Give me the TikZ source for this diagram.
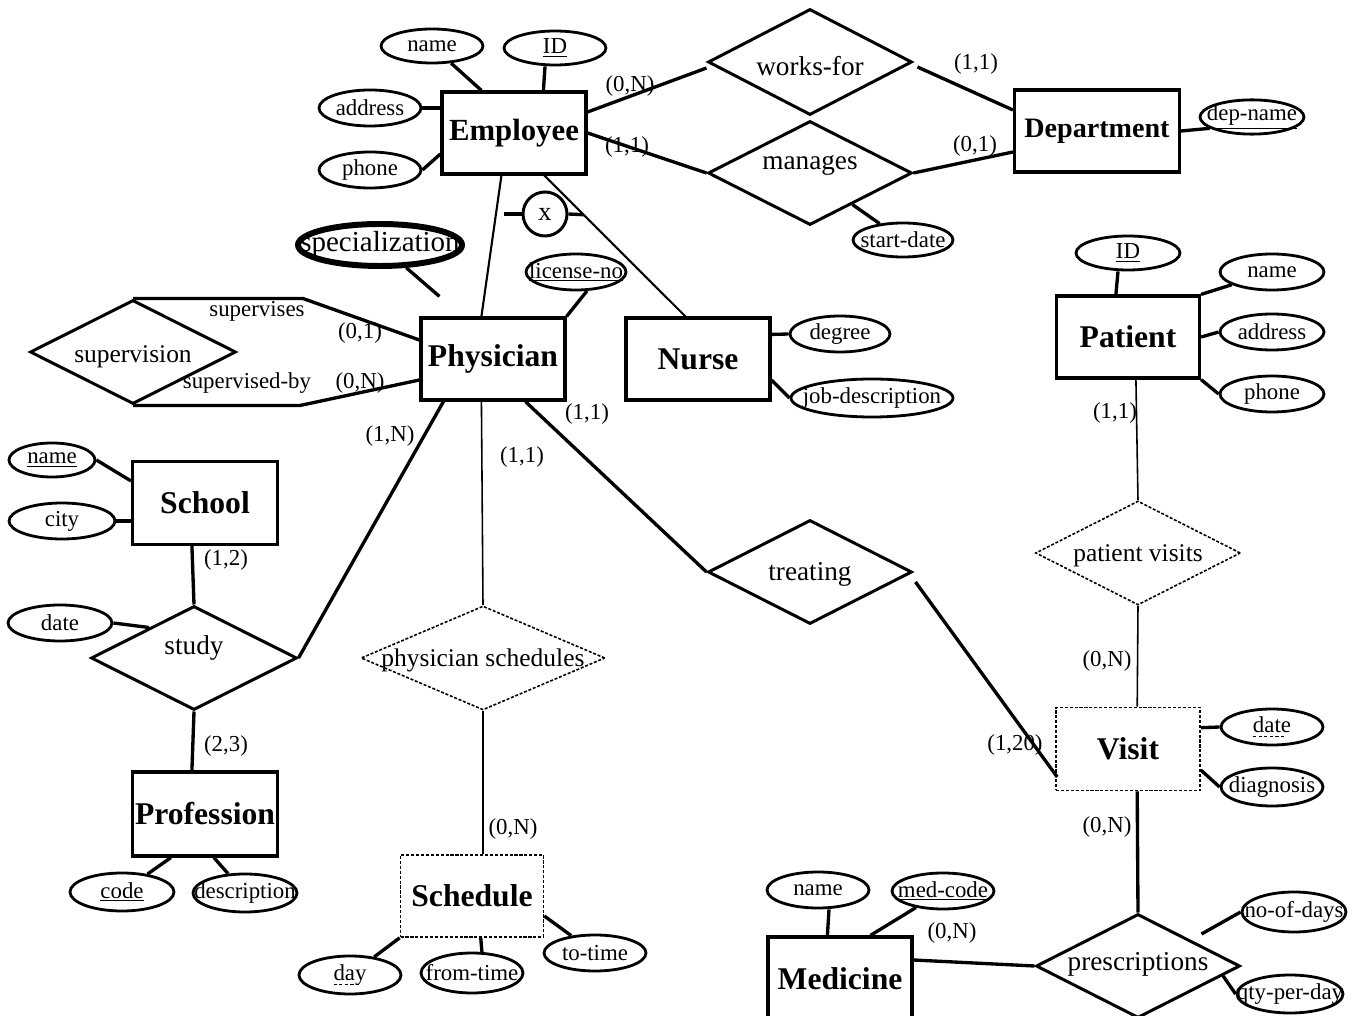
\documentclass[tikz,border=0pt]{standalone}
\usepackage{fontspec}
\setmainfont{Liberation Serif}
\usetikzlibrary{shapes.geometric,calc}
\newcommand{\zb}[1]{\makebox[0pt]{#1}}
\newcommand{\zr}[2]{\makebox[0pt]{\raisebox{#1}[0pt][0pt]{#2}}}
\newcommand{\ul}[1]{\underline{#1}}
\newsavebox{\dulbox}
\newcommand{\dul}[1]{\sbox{\dulbox}{#1}\rlap{\raisebox{-2.6pt}{\hbox to \wd\dulbox{\leaders\hbox{\rule{1.8pt}{0.5pt}\hspace{1.4pt}}\hfill}}}\usebox{\dulbox}}
\begin{document}
\begin{tikzpicture}[x=0.02cm,y=-0.02cm,
  ent/.style 2 args={draw, line width=1.8pt, minimum width=#1*0.02cm, minimum height=#2*0.02cm, inner sep=0pt, font=\fontsize{18}{20}\selectfont\bfseries},
  went/.style 2 args={ent={#1}{#2}, densely dotted, line width=0.9pt},
  attr/.style 2 args={draw, ellipse, line width=1.6pt, minimum width=#1*0.02cm, minimum height=#2*0.02cm, inner sep=0pt, font=\fontsize{13}{15}\selectfont},
  rel/.style 2 args={draw, diamond, line width=1.7pt, minimum width=#1*0.02cm, minimum height=#2*0.02cm, inner sep=0pt, font=\fontsize{15.5}{18}\selectfont},
  wrel/.style 2 args={rel={#1}{#2}, densely dotted, line width=0.9pt, font=\fontsize{14.5}{17}\selectfont},
  card/.style={inner sep=0pt, font=\fontsize{13}{15}\selectfont},
  conn/.style={line width=1.9pt},
  thinconn/.style={line width=0.9pt},
]
\useasboundingbox (0,0) rectangle (1367,1016);

% ---------- entities ----------
\node[ent={144}{82}, font=\fontsize{17.5}{20}\selectfont\bfseries] (emp) at (514,133) {Employee};
\node[ent={165}{82}, font=\fontsize{16}{19}\selectfont\bfseries] (dept) at (1097,131) {Department};
\node[ent={144}{82}] (phys) at (493,359) {Physician};
\node[ent={144}{82}] (nurse) at (698,359) {Nurse};
\node[ent={145}{83}] (school) at (205,503) {School};
\node[ent={145}{84}] (prof) at (205,814) {Profession};
\node[went={143}{82}] (sched) at (472,896) {Schedule};
\node[ent={143}{82}] (patient) at (1128,337) {Patient};
\node[went={144}{83}] (visit) at (1128,749) {Visit};
\node[ent={144}{84}] (med) at (840,979) {Medicine};

% ---------- relationships ----------
\node[rel={204}{106}] (worksfor) at (810,62) {\zr{-7.8pt}{works-for}};
\node[rel={204}{104}] (manages) at (810,173) {\zr{1.8pt}{manages}};
\node[rel={204}{104}] (treating) at (810,572) {\zr{-5pt}{treating}};
\node[rel={206}{104}, font=\fontsize{14.5}{17}\selectfont] (superv) at (133,352) {\zr{-6pt}{supervision}};
\node[rel={206}{104}] (study) at (194,658) {\zr{1.8pt}{study}};
\node[wrel={244}{104}] (physsched) at (483,658) {\zr{-5pt}{physician schedules}};
\node[wrel={205}{104}] (patvisits) at (1138,553) {\zr{-5pt}{patient visits}};
\node[rel={204}{104}] (presc) at (1138,966) {\zr{-2.7pt}{prescriptions}};

\node[draw, circle, line width=1.7pt, minimum size=44*0.02cm, inner sep=0pt, font=\fontsize{15}{17}\selectfont] (xc) at (545,214) {x};

% ---------- attributes ----------
\node[attr={102}{34}] (ename) at (432,46) {\zb{name}};
\node[attr={102}{34}] (eid) at (555,48) {\zb{\ul{ID}}};
\node[attr={102}{36}] (eaddr) at (370,108) {\zb{address}};
\node[attr={102}{36}] (ephone) at (370,170) {\zb{phone}};
\node[attr={104}{34}] (deptname) at (1252,117) {\zb{\ul{dep-name}}};
\node[attr={100}{34}] (startdate) at (903,240) {\zb{start-date}};
\node[attr={164}{42}, line width=3.4pt, font=\fontsize{16.5}{19}\selectfont] (spec) at (380,245) {\zb{specialization}};
\node[attr={100}{36}] (license) at (576,272) {\zb{\ul{license-no}}};
\node[attr={100}{36}] (degree) at (840,334) {\zb{degree}};
\node[attr={162}{38}] (jobdesc) at (872,398) {\zb{job-description}};
\node[attr={86}{34}] (sname) at (52,460) {\zb{\ul{name}}};
\node[attr={106}{36}] (scity) at (62,521) {\zb{city}};
\node[attr={104}{36}] (sdate) at (60,623) {\zb{date}};
\node[attr={104}{38}] (pcode) at (122,892) {\zb{\ul{code}}};
\node[attr={104}{38}] (pdesc) at (245,893) {\zb{description}};
\node[attr={102}{38}] (sday) at (350,975) {\zb{\dul{day}}};
\node[attr={102}{40}] (sfrom) at (472,973) {\zb{from-time}};
\node[attr={102}{36}] (sto) at (595,953) {\zb{to-time}};
\node[attr={104}{34}] (patid) at (1128,253) {\zb{\ul{ID}}};
\node[attr={104}{36}] (patname) at (1272,272) {\zb{name}};
\node[attr={104}{36}] (pataddr) at (1272,332) {\zb{address}};
\node[attr={104}{36}] (patphone) at (1272,394) {\zb{phone}};
\node[attr={102}{36}] (vdate) at (1272,727) {\zb{\dul{date}}};
\node[attr={102}{38}] (vdiag) at (1272,787) {\zb{diagnosis}};
\node[attr={102}{36}] (mname) at (818,890) {\zb{name}};
\node[attr={102}{36}] (mcode) at (943,891) {\zb{\ul{med-code}}};
\node[attr={104}{40}] (nodays) at (1294,912) {\zb{no-of-days}};
\node[attr={106}{38}] (qty) at (1290,994) {\zb{qty-per-day}};

% ---------- attribute connectors ----------
\draw[conn] (ename) -- ($(emp.north west)+(41,0)$);
\draw[conn] ($(emp.north west)+(103,0)$) -- ($(eid.south)+(-10,0)$);
\draw[conn] (eaddr.east) -- (emp.west |- eaddr.east);
\draw[conn] (ephone.east) -- ($(emp.west)+(0,21)$);
\draw[conn] (dept.east) -- (deptname.195);
\draw[conn] ($(manages.south)!0.41!(manages.east)$) -- (startdate);
\draw[conn] (spec) -- ($(phys.north west)+(20,-20)$);
\draw[conn] (phys.north east) -- (license.-60);
\draw[conn] ($(nurse.north east)+(0,18)$) -- (degree.west);
\draw[conn] ($(nurse.east)+(0,21)$) -- (jobdesc.west);
\draw[conn] (sname.east) -- ($(school.north west)+(0,21)$);
\draw[conn] (scity.east) -- (school.west |- scity.east);
\draw[conn] (sdate.east) -- ($(study.west)!0.57!(study.north)$);
\draw[conn] ($(prof.south west)+(40,0)$) -- (pcode);
\draw[conn] ($(prof.south west)+(83,0)$) -- (pdesc);
\draw[conn] (sched.south west) -- (sday);
\draw[conn] ($(sched.south west)+(81,0)$) -- ($(sfrom.north)+(10,1)$);
\draw[conn] ($(sched.east)+(0,20)$) -- (sto);
\draw[conn] ($(patient.north west)+(61,0)$) -- ($(patid.south)+(-10,0)$);
\draw[conn] (patient.north east) -- (patname);
\draw[conn] (patient.east) -- (pataddr.west);
\draw[conn] (patient.south east) -- (patphone.west);
\draw[conn] ($(visit.north east)+(0,21)$) -- (vdate.west);
\draw[conn] ($(visit.east)+(0,21)$) -- (vdiag.west);
\draw[conn] ($(presc.east)+(-40,-32)$) -- (nodays.west);
\draw[conn] ($(presc.east)!0.18!(presc.south)$) -- (qty.west);
\draw[conn] ($(med.north west)+(61,0)$) -- ($(mname.south)+(11,0)$);
\draw[conn] ($(med.north west)+(104,0)$) -- (mcode);

% ---------- relationship connectors ----------
\draw[conn] ($(emp.east)+(0,-21)$) -- ($(worksfor.west)+(0,6)$);
\draw[conn] ($(worksfor.east)+(4,5)$) -- ($(dept.west)+(0,-21)$);
\draw[conn] (emp.east) -- (manages.west);
\draw[conn] (manages.east) -- ($(dept.west)+(0,21)$);

% ISA with disjointness circle
\coordinate (ea) at ($(emp.south west)+(61,0)$);
\coordinate (pa) at ($(phys.north west)+(62,0)$);
\coordinate (eb) at ($(emp.south west)+(104,0)$);
\coordinate (nb) at ($(nurse.north west)+(61,0)$);
\draw[line width=1.2pt] (ea) -- (pa);
\draw[line width=1.2pt] (eb) -- (nb);
\coordinate (xr) at ($(eb)!0.278!(nb)$);
\draw[conn] (xc.west) -- ($(xc.west)+(-18,0)$);
\draw[conn] (xc.east) -- (xr);

% supervision
\draw[conn] (superv.north) -- ($(superv.north)+(170,0)$) -- ($(phys.west)+(0,-19)$);
\draw[conn] (superv.south) -- ($(superv.south)+(167,0)$) -- ($(phys.west)+(0,21)$);

\draw[conn] ($(phys.south west)+(24,0)$) -- (study.east);
\draw[thinconn] ($(phys.south west)+(62,0)$) -- (physsched.north);
\draw[conn] ($(phys.south west)+(106,0)$) -- (treating.west);
\draw[conn] ($(treating.east)+(2,10)$) -- ($(visit.west)+(2,28)$);

\draw[conn] ($(school.south west)+(61,0)$) -- (study.north);
\draw[conn] (study.south) -- ($(prof.north west)+(61,0)$);

\draw[thinconn] (physsched.south) -- (physsched.south |- sched.north);

\draw[thinconn] ($(patient.south west)+(81,0)$) -- (patvisits.north);
\draw[thinconn] (patvisits.south) -- ($(visit.north west)+(82,0)$);
\draw[conn] ($(visit.south west)+(82,0)$) -- (presc.north);
\draw[conn] ($(med.east)+(0,-19)$) -- (presc.west);

% ---------- cardinalities and role names ----------
\node[card] (c1) at (630,86) {(0,N)};
\node[card] (c2) at (627,147) {(1,1)};
\node[card] (c3) at (976,64) {(1,1)};
\node[card] (c4) at (975,146) {(0,1)};
\node[card] (c5) at (360,333) {(0,1)};
\node[card] (c6) at (360,383) {(0,N)};
\node[card] (c7) at (390,436) {(1,N)};
\node[card] (c8) at (522,457) {(1,1)};
\node[card] (c9) at (587,414) {(1,1)};
\node[card] (c10) at (1015,745) {(1,20)};
\node[card] (c11) at (226,560) {(1,2)};
\node[card] (c12) at (226,746) {(2,3)};
\node[card] (c13) at (513,829) {(0,N)};
\node[card] (c14) at (1115,413) {(1,1)};
\node[card] (c15) at (1107,661) {(0,N)};
\node[card] (c16) at (1107,827) {(0,N)};
\node[card] (c17) at (952,933) {(0,N)};
\node[card] (r1) at (257,311) {supervises};
\node[card] (r2) at (247,383) {supervised-by};
\end{tikzpicture}
\end{document}
